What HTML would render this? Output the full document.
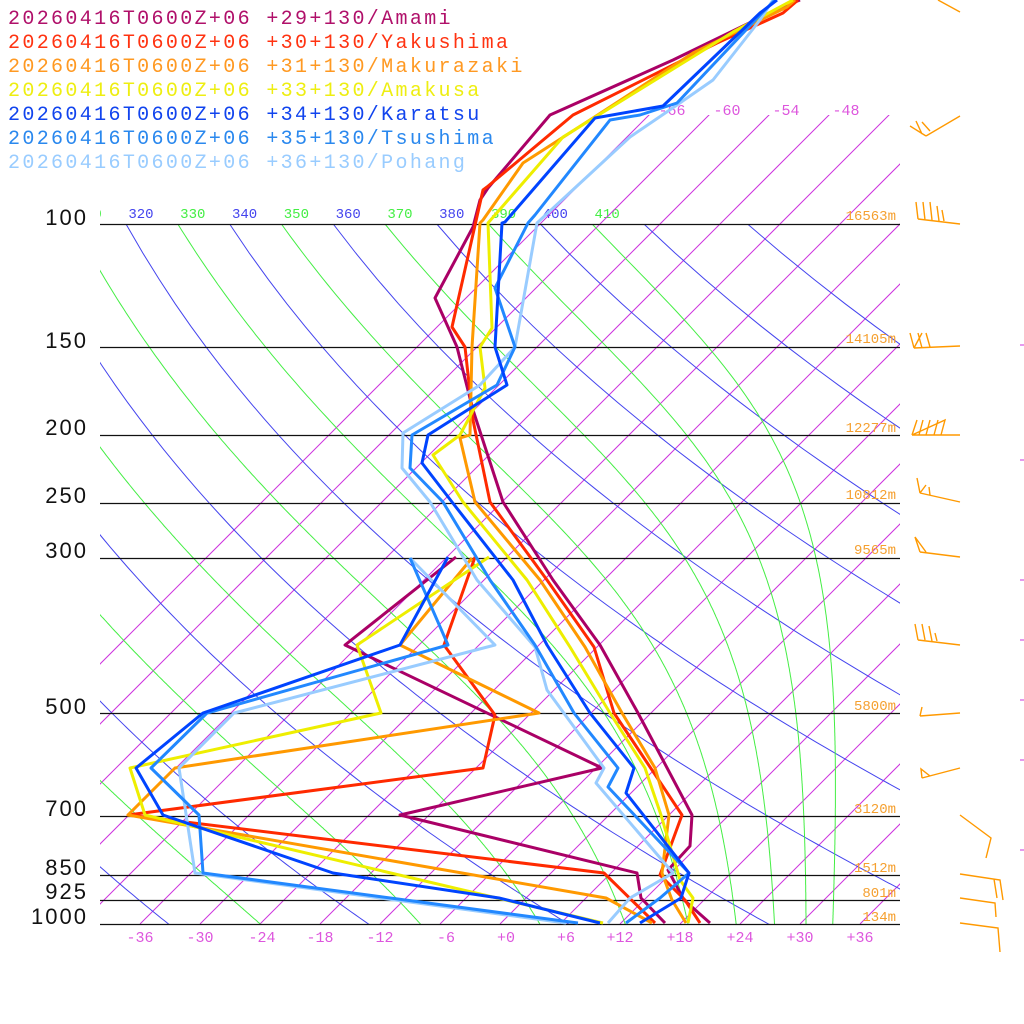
<!DOCTYPE html>
<html><head><meta charset="utf-8"><style>
html,body{margin:0;padding:0;background:#fff;}
svg{display:block;}
.lg{font-family:"Liberation Mono",monospace;font-size:20px;letter-spacing:2.35px;}
.pl{font-family:"Liberation Sans",sans-serif;font-size:22px;letter-spacing:2px;fill:#111;}
.bt{font-family:"Liberation Mono",monospace;font-size:15px;fill:#dd55dd;text-anchor:middle;}
.hl{font-family:"Liberation Mono",monospace;font-size:14px;fill:#f5a030;text-anchor:end;}
.th{font-family:"Liberation Mono",monospace;font-size:14px;text-anchor:middle;}
.d{fill:none;stroke-width:3;stroke-linejoin:round;}
</style></head><body>
<svg id="s" width="1024" height="1024" viewBox="0 0 1024 1024" xmlns="http://www.w3.org/2000/svg">
<defs>
<clipPath id="ciso"><rect x="100" y="115" width="800" height="809"/></clipPath>
<clipPath id="cad"><rect x="100" y="224" width="800" height="700"/></clipPath>
<clipPath id="clab"><rect x="100" y="190" width="800" height="40"/></clipPath>
</defs>
<g id="grid"></g>
<g id="thl" clip-path="url(#clab)"></g>
<g id="iso" clip-path="url(#ciso)"></g>
<g id="ad" clip-path="url(#cad)"></g>
<g id="hz"></g>
<text class="lg" x="8" y="24" fill="#b0106a">20260416T0600Z+06 +29+130/Amami</text>
<text class="lg" x="8" y="48" fill="#ff3311">20260416T0600Z+06 +30+130/Yakushima</text>
<text class="lg" x="8" y="72" fill="#ff9922">20260416T0600Z+06 +31+130/Makurazaki</text>
<text class="lg" x="8" y="96" fill="#eeee11">20260416T0600Z+06 +33+130/Amakusa</text>
<text class="lg" x="8" y="120" fill="#1144ee">20260416T0600Z+06 +34+130/Karatsu</text>
<text class="lg" x="8" y="144" fill="#2a88ee">20260416T0600Z+06 +35+130/Tsushima</text>
<text class="lg" x="8" y="168" fill="#99ccff">20260416T0600Z+06 +36+130/Pohang</text>
<text class="pl" x="88" y="225" text-anchor="end">100</text>
<text class="pl" x="88" y="348" text-anchor="end">150</text>
<text class="pl" x="88" y="435" text-anchor="end">200</text>
<text class="pl" x="88" y="503" text-anchor="end">250</text>
<text class="pl" x="88" y="558" text-anchor="end">300</text>
<text class="pl" x="88" y="714" text-anchor="end">500</text>
<text class="pl" x="88" y="816" text-anchor="end">700</text>
<text class="pl" x="88" y="875" text-anchor="end">850</text>
<text class="pl" x="88" y="899" text-anchor="end">925</text>
<text class="pl" x="88" y="924" text-anchor="end">1000</text>
<text class="hl" x="896" y="220">16563m</text>
<text class="hl" x="896" y="343">14105m</text>
<text class="hl" x="896" y="432">12277m</text>
<text class="hl" x="896" y="499">10812m</text>
<text class="hl" x="896" y="554">9565m</text>
<text class="hl" x="896" y="710">5800m</text>
<text class="hl" x="896" y="813">3120m</text>
<text class="hl" x="896" y="872">1512m</text>
<text class="hl" x="896" y="897">801m</text>
<text class="hl" x="896" y="921">134m</text>
<g id="bl"></g>
<text class="bt" x="672" y="115">-66</text>
<text class="bt" x="727" y="115">-60</text>
<text class="bt" x="786" y="115">-54</text>
<text class="bt" x="846" y="115">-48</text>
<g id="prof">
<polyline class="d" stroke="#aa0066" points="710,923 684,900 668,870 690,846 692,815 638,713 600,645 553,580 503,502 473,410 457,347 435,298 473,227 480,200 488,188 550,115 673,60 780,8 800,0"/>
<polyline class="d" stroke="#aa0066" points="665,923 641,898 637,873 400,815 602,768 345,645 456,557"/>
<polyline class="d" stroke="#ff2a00" points="700,923 685,900 660,875 682,815 614,713 594,647 547,580 490,502 473,420 465,347 452,327 483,190 487,187 573,115 717,43 783,13 798,0"/>
<polyline class="d" stroke="#ff2a00" points="655,923 604,873 128,815 483,768 495,715 444,645 475,557"/>
<polyline class="d" stroke="#ff9900" points="686,923 672,900 662,873 669,815 655,768 622,713 585,647 540,580 475,502 460,438 470,435 472,347 480,223 483,220 523,163 593,118 693,53 787,7 795,0"/>
<polyline class="d" stroke="#ff9900" points="652,923 606,898 128,815 175,768 539,713 400,645 472,558"/>
<polyline class="d" stroke="#eeee00" points="688,923 693,898 680,880 661,815 645,768 610,713 570,647 527,580 463,502 433,455 460,435 485,388 480,347 492,328 488,223 563,137 733,32 793,0"/>
<polyline class="d" stroke="#eeee00" points="603,923 145,815 130,768 381,713 357,645 489,557"/>
<polyline class="d" stroke="#99ccff" points="608,923 630,898 673,873 596,783 604,768 547,690 535,647 477,580 430,502 402,468 403,433 480,385 515,347 537,223 630,137 677,105 713,80 760,20 773,0"/>
<polyline class="d" stroke="#99ccff" points="566,923 195,873 179,768 234,713 495,645 410,558"/>
<polyline class="d" stroke="#2288ff" points="626,923 660,898 689,873 608,787 618,768 574,713 535,645 490,580 443,502 410,468 412,435 497,385 515,347 495,288 528,223 535,215 610,120 640,115 677,103 762,13 775,0"/>
<polyline class="d" stroke="#2288ff" points="578,923 203,873 199,815 151,768 207,713 448,645 410,558"/>
<polyline class="d" stroke="#0044ff" points="640,923 681,898 689,873 626,793 634,768 590,713 547,645 513,580 452,502 422,463 428,435 507,385 495,347 502,223 505,222 595,118 663,106 760,13 777,0"/>
<polyline class="d" stroke="#0044ff" points="600,923 499,898 333,873 163,815 136,768 203,713 400,645 448,557"/>
</g>
<g fill="none" stroke="#ff9900" stroke-width="1.4">
<polyline points="938,0 960,12"/>
<path d="M960,116 L926,136 M926,136 L910,126 M922,134 L916,121 M930,131 L922,122"/>
<path d="M918,219 L960,224 M918,219 L916,202 M925,220 L923,202 M932,220 L930,202 M939,221 L937,206 M944,221 L942,210"/>
<path d="M914,348 L960,346 M914,348 L910,333 M914,348 L922,333 M922,348 L918,333 M930,347 L926,333"/>
<path d="M912,435 L960,435 M912,435 L917,420 M919,435 L923,420 M926,435 L930,420 M934,435 L938,420 M941,435 L945,420 L912,435"/>
<path d="M920,493 L960,502 M920,493 L917,478 M920,493 L926,485 M930,495 L929,487"/>
<path d="M920,552 L960,557 M920,552 L915,537 L926,552"/>
<path d="M918,640 L960,645 M918,640 L915,624 M925,640 L922,624 M932,641 L929,626 M937,641 L935,633"/>
<path d="M920,716 L960,713 M920,716 L922,707"/>
<path d="M922,778 L960,768 M922,778 L921,769 L930,776"/>
<path d="M960,815 L991,838 L986,858"/>
<path d="M960,874 L1000,880 L1003,900 M994,879 L997,898"/>
<path d="M960,898 L995,903 L996,917"/>
<path d="M960,923 L998,928 L1000,952"/>
</g>
<script>
(function(){
var NS="http://www.w3.org/2000/svg";
function Y(p){return 924-304*Math.log(1000/p);}
function X(T,y){return 500+10*T+(924-y);}
function line(g,pts,col,w){var e=document.createElementNS(NS,"polyline");e.setAttribute("points",pts.map(function(a){return a[0].toFixed(1)+","+a[1].toFixed(1)}).join(" "));e.setAttribute("fill","none");e.setAttribute("stroke",col);e.setAttribute("stroke-width",w);g.appendChild(e);}
function txt(g,x,y,s,cls,col){var e=document.createElementNS(NS,"text");e.setAttribute("x",x);e.setAttribute("y",y);e.setAttribute("class",cls);if(col)e.setAttribute("fill",col);e.textContent=s;g.appendChild(e);}
var iso=document.getElementById("iso"),ad=document.getElementById("ad"),hz=document.getElementById("hz"),bl=document.getElementById("bl"),grid=document.getElementById("grid"),thl=document.getElementById("thl");
for(var T=-66;T<=42;T+=6){line(iso,[[X(T,924),924],[X(T,100),100]],"#cc33dd",1);}
var BLUE="#4444ee",GREEN="#44ee44";
for(var th=160;th<=440;th+=20){var pts=[];for(var p=100;p<=1050;p+=10){var t=th*Math.pow(p/1000,0.2857)-273.15;var y=Y(p);pts.push([X(t,y),y]);}
line(ad,pts,BLUE,1);
if(th>=320&&th<=400){txt(thl,X(th*Math.pow(0.1,0.2857)-273.15,224)+15,218,String(th),"th",BLUE);}}
function es(t){return 6.112*Math.exp(17.67*t/(t+243.5));}
for(var E=150;E<=410;E+=20){var t=E*Math.pow(0.1,0.2857),pts=[];
for(var p=100;p<=1050;p+=2){var tc=t-273.15;var y=Y(p);pts.push([X(tc,y),y]);
var e=es(tc);var rs=0.622*e/(p-e);if(rs<0)rs=0;
var d=(287*t+2.5e6*rs)/(1004+2.5e6*2.5e6*rs*0.622/(287*t*t))/p;t+=d*2;}
line(ad,pts,GREEN,1);
if(E>=310){txt(thl,X(E*Math.pow(0.1,0.2857)-273.15,224)+15,218,String(E),"th",GREEN);}}
[100,150,200,250,300,500,700,850,925,1000].forEach(function(p){var y=Math.round(Y(p))+0.5;line(hz,[[100,y],[900,y]],"#111",1.3);});
var lab=[["-36",140],["-30",200],["-24",262],["-18",320],["-12",380],["-6",446],["+0",506],["+6",566],["+12",620],["+18",680],["+24",740],["+30",800],["+36",860]];
lab.forEach(function(a){txt(bl,a[1],942,a[0],"bt");});
[345,460,580,640,700,760,850].forEach(function(y){line(grid,[[1020,y],[1024,y]],"#cc33dd",1);});
})();
</script>
</svg>
</body></html>
